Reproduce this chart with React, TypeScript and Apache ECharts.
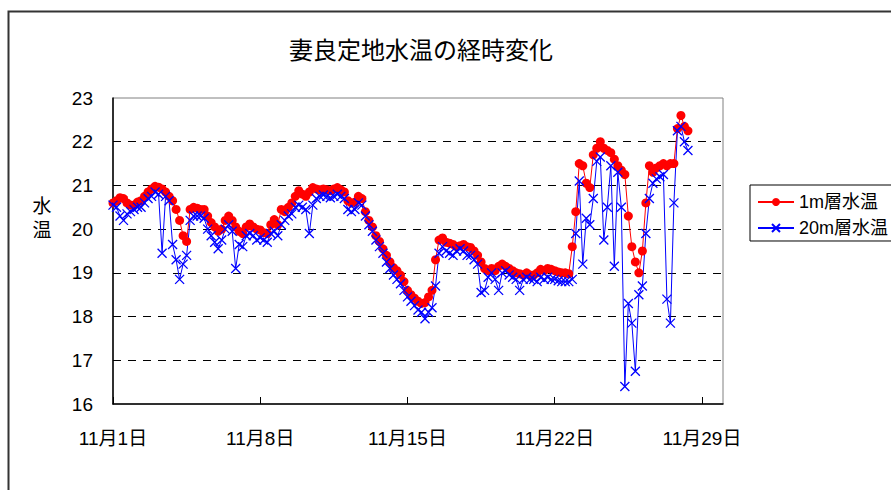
import React, { useEffect, useRef } from 'react';
import * as echarts from 'echarts';

const TITLE = '妻良定地水温の経時変化';
const Y_NAME = '水\n温';
const SERIES_NAMES = ['1m層水温', '20m層水温'];
const MONTH = 11;
const X_TICK_DAYS = [0, 7, 14, 21, 28];
const Y_MIN = 16;
const Y_MAX = 23;
const POINTS_PER_DAY = 6; // one reading every 4 hours from 11/1 0:00

const temp1m = [
  20.6, 20.65, 20.72, 20.7, 20.6, 20.55,
  20.55, 20.62, 20.65, 20.75, 20.85, 20.92,
  20.98, 20.96, 20.92, 20.85, 20.75, 20.65,
  20.45, 20.2, 19.85, 19.72, 20.45, 20.5,
  20.48, 20.45, 20.45, 20.3, 20.15, 20.05,
  19.95, 20.0, 20.2, 20.3, 20.2, 20.05,
  19.95, 19.9, 20.05, 20.12, 20.05, 20.0,
  19.98, 19.92, 19.9, 20.1, 20.22, 20.1,
  20.45, 20.4, 20.5, 20.6, 20.75, 20.88,
  20.8, 20.75, 20.85, 20.95, 20.92, 20.9,
  20.92, 20.9, 20.88, 20.92, 20.95, 20.9,
  20.85, 20.65, 20.6, 20.62, 20.75, 20.7,
  20.4, 20.2, 20.05, 19.85, 19.72, 19.55,
  19.4, 19.25, 19.12, 19.05, 18.95, 18.8,
  18.6, 18.5, 18.42, 18.35, 18.3, 18.32,
  18.45, 18.6, 19.3, 19.75, 19.8, 19.7,
  19.68, 19.65, 19.6, 19.62, 19.65, 19.6,
  19.58, 19.5, 19.4, 19.25, 19.1, 19.05,
  19.1, 19.05, 19.15, 19.2, 19.15, 19.1,
  19.05, 19.0, 18.98, 18.95, 19.0, 18.95,
  18.95, 19.0, 19.08, 19.05, 19.1, 19.08,
  19.05, 19.02, 19.0, 19.0, 18.98, 19.6,
  20.4, 21.5, 21.45, 21.05, 20.95, 21.7,
  21.85, 22.0, 21.85, 21.8, 21.75, 21.6,
  21.45, 21.35, 21.25, 20.3, 19.6, 19.25,
  19.0, 19.5, 20.6, 21.45, 21.3, 21.4,
  21.45, 21.5, 21.45, 21.5, 21.5, 22.3,
  22.6, 22.35, 22.25,
];

const temp20m = [
  20.55, 20.5, 20.3, 20.2, 20.35, 20.4,
  20.45, 20.5, 20.5, 20.6, 20.7, 20.75,
  20.85, 20.8, 19.45, 20.75, 20.65, 19.65,
  19.3, 18.85, 19.2, 19.4, 20.2, 20.3,
  20.3, 20.3, 20.25, 20.0, 19.85, 19.7,
  19.55, 19.75, 20.0, 20.1, 19.95, 19.1,
  19.65, 19.6, 19.85, 19.9, 19.85, 19.75,
  19.8, 19.75, 19.7, 19.9, 19.95, 19.85,
  20.1, 20.2, 20.3, 20.35, 20.5, 20.55,
  20.5, 20.45, 19.9, 20.55, 20.7, 20.75,
  20.78, 20.75, 20.72, 20.75, 20.8, 20.75,
  20.7, 20.45, 20.4, 20.45, 20.6, 20.55,
  20.3, 20.1, 19.95, 19.75, 19.6, 19.45,
  19.25, 19.1, 18.95, 18.85, 18.75, 18.6,
  18.45, 18.35, 18.25, 18.15, 18.1, 17.95,
  18.1, 18.2, 18.7, 19.45, 19.6, 19.5,
  19.45, 19.4, 19.5, 19.55, 19.5, 19.4,
  19.4, 19.3, 19.2, 18.55, 18.6, 18.9,
  19.0, 18.85, 18.6, 19.0, 19.05, 18.95,
  18.9, 18.85, 18.6, 18.85, 18.9, 18.85,
  18.85, 18.8, 18.9, 18.85, 18.9, 18.85,
  18.85, 18.82, 18.8, 18.8, 18.8, 18.85,
  19.9, 21.1, 19.2, 20.25, 20.1, 20.7,
  21.55, 21.65, 19.75, 20.5, 21.45, 19.15,
  21.3, 20.5, 16.4, 18.3, 17.85, 16.75,
  18.5, 18.7, 19.9, 20.7, 21.05, 21.15,
  21.2, 21.25, 18.4, 17.85, 20.6, 22.25,
  22.35, 22.0, 21.8,
];

const FONT = '"Liberation Sans", Arial, "Noto Sans CJK JP", sans-serif';
const CROSS = 'path://M0,0L10,10M10,0L0,10';

const toPoints = (vals: number[]) => vals.map((v, i) => [i / POINTS_PER_DAY, v]);

export default function App() {
  const ref = useRef<HTMLDivElement>(null);
  useEffect(() => {
    if (!ref.current) return;
    const chart = echarts.init(ref.current, undefined, { renderer: 'svg' });
    chart.setOption({
      animation: false,
      backgroundColor: '#ffffff',
      textStyle: { fontFamily: FONT },
      graphic: [
        {
          type: 'rect',
          shape: { x: 8.5, y: 11.5, width: 1000, height: 1000 },
          style: { fill: 'none', stroke: '#333', lineWidth: 2 },
          z: -1,
        },
        {
          type: 'text',
          x: 421,
          y: 50,
          style: {
            text: TITLE,
            font: `24px ${FONT}`,
            fill: '#000',
            textAlign: 'center',
            textVerticalAlign: 'middle',
          },
        },
        {
          type: 'text',
          x: 42,
          y: 218,
          style: {
            text: Y_NAME,
            font: `19px ${FONT}`,
            lineHeight: 24,
            fill: '#000',
            textAlign: 'center',
            textVerticalAlign: 'middle',
          },
        },
      ],
      grid: {
        left: 113,
        right: 168,
        top: 98,
        bottom: 86,
        show: true,
        borderColor: '#808080',
        borderWidth: 1,
        backgroundColor: 'transparent',
      },
      legend: {
        orient: 'vertical',
        left: 750,
        top: 185,
        padding: [8, 40, 4, 7],
        itemWidth: 36,
        itemHeight: 10,
        itemGap: 8,
        borderColor: '#000',
        borderWidth: 1,
        textStyle: { fontSize: 18, color: '#000', fontFamily: FONT },
        data: SERIES_NAMES,
      },
      xAxis: {
        type: 'value',
        min: 0,
        max: 29,
        interval: 7,
        axisLine: { show: true, onZero: false, lineStyle: { color: '#000', width: 1.5 } },
        axisTick: { show: true, inside: true, length: 7, lineStyle: { color: '#000', width: 1 } },
        splitLine: { show: false },
        axisLabel: {
          margin: 25,
          fontSize: 19,
          color: '#000',
          fontFamily: FONT,
          showMaxLabel: false,
          formatter: (v: number) =>
            X_TICK_DAYS.includes(Math.round(v)) && Math.abs(v - Math.round(v)) < 1e-6
              ? `${MONTH}月${Math.round(v) + 1}日`
              : '',
        },
      },
      yAxis: {
        type: 'value',
        min: Y_MIN,
        max: Y_MAX,
        interval: 1,
        axisLine: { show: true, onZero: false, lineStyle: { color: '#000', width: 1.5 } },
        axisTick: { show: false },
        axisLabel: { margin: 20, fontSize: 19, color: '#000', fontFamily: FONT },
        splitLine: {
          show: true,
          showMinLine: false,
          showMaxLine: false,
          lineStyle: { color: '#000', type: [8, 7], width: 1 },
        },
      },
      series: [
        {
          name: SERIES_NAMES[0],
          type: 'line',
          data: toPoints(temp1m),
          symbol: 'circle',
          symbolSize: 9,
          showAllSymbol: true,
          lineStyle: { color: '#ff0000', width: 1 },
          itemStyle: { color: '#ff0000' },
        },
        {
          name: SERIES_NAMES[1],
          type: 'line',
          data: toPoints(temp20m),
          symbol: CROSS,
          symbolSize: 9,
          showAllSymbol: true,
          lineStyle: { color: '#0000ff', width: 1 },
          itemStyle: { color: '#0000ff', borderColor: '#0000ff', borderWidth: 1.3 },
        },
      ],
    });
    return () => chart.dispose();
  }, []);
  return (
    <div
      ref={ref}
      style={{ position: 'fixed', left: 0, top: 0, width: 891, height: 490, background: '#fff' }}
    />
  );
}
